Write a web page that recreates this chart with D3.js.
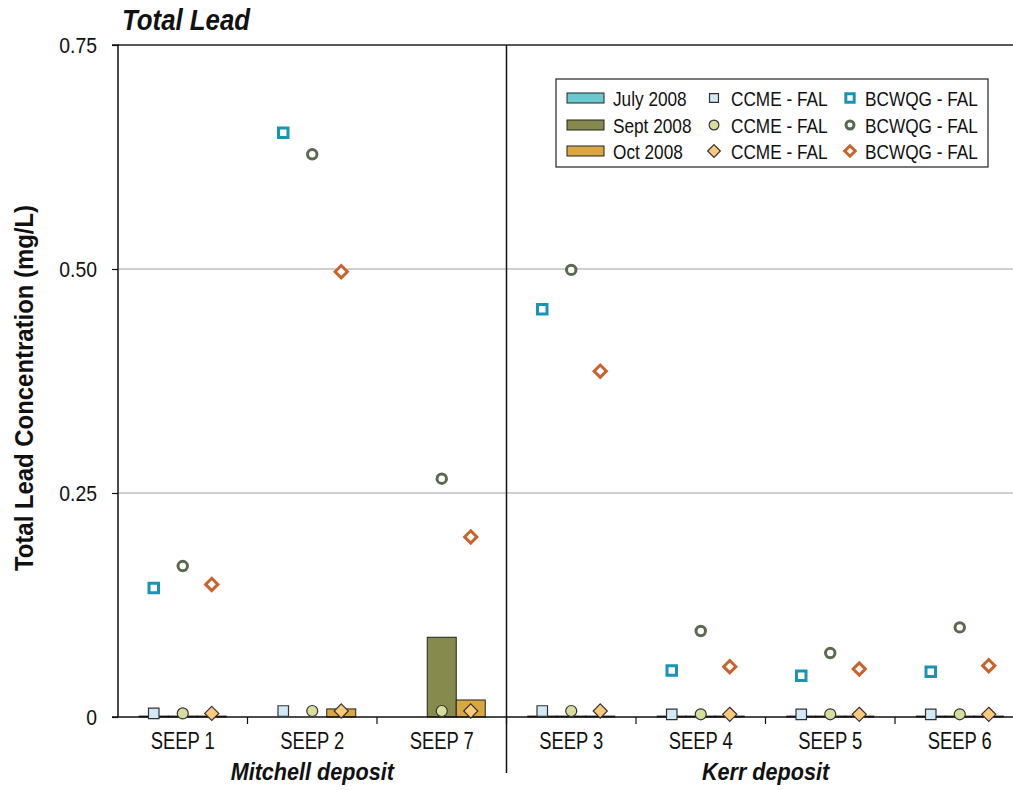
<!DOCTYPE html>
<html><head><meta charset="utf-8">
<script src="https://cdn.jsdelivr.net/npm/d3@7"></script>
<style>
html,body{margin:0;padding:0;background:#fff;}
text{font-family:"Liberation Sans",Arial,sans-serif;fill:#111;}
</style></head>
<body><svg id="chart" width="1013" height="790"></svg>
<script>
const categories = ["SEEP 1","SEEP 2","SEEP 7","SEEP 3","SEEP 4","SEEP 5","SEEP 6"];
const depositNames = ["Mitchell deposit","Kerr deposit"];
const depositCounts = [3,4];
const seriesNames = ["July 2008","Sept 2008","Oct 2008"];
const julyVals = [0.001, null, null, 0.001, 0.001, 0.001, 0.001];
const septVals = [0.001, null, 0.089, 0.001, 0.001, 0.001, 0.001];
const octVals  = [0.001, 0.009, 0.019, 0.001, 0.001, 0.001, 0.001];
const ccmeJuly = [0.004, 0.0067, null, 0.0067, 0.003, 0.003, 0.003];
const ccmeSept = [0.004, 0.0067, 0.0067, 0.0067, 0.003, 0.003, 0.003];
const ccmeOct  = [0.004, 0.0067, 0.0067, 0.0067, 0.003, 0.003, 0.003];
const bcJuly = [0.144, 0.652, null, 0.455, 0.052, 0.046, 0.0506];
const bcSept = [0.1685, 0.628, 0.266, 0.499, 0.096, 0.0714, 0.100];
const bcOct  = [0.148, 0.497, 0.201, 0.386, 0.0562, 0.0536, 0.0573];
const yTicks = [0, 0.25, 0.50, 0.75];
const yTickLabels = ["0", "0.25", "0.50", "0.75"];
const legendLabel2 = "CCME - FAL";
const legendLabel3 = "BCWQG - FAL";

const barColors = ["#6cc8cf","#878a4d","#d9a641"];
const ccmeFill = ["#d2eaf8","#d8dc9c","#fbc97c"];
const bcStroke = ["#1a93b5","#5a6a4e","#c9622d"];
const squareDiamond = {draw(ctx,size){const r=Math.sqrt(size/2);ctx.moveTo(0,-r);ctx.lineTo(r,0);ctx.lineTo(0,r);ctx.lineTo(-r,0);ctx.closePath();}};
const shapes = [d3.symbolSquare, d3.symbolCircle, squareDiamond];

const svg = d3.select("#chart");
const m = {left:118, top:45};
const plotH = 672, plotW = 906.5;
const g = svg.append("g").attr("transform",`translate(${m.left},${m.top})`);

// narrow text helper (horizontal compression to mimic a condensed face)
function ntext(parent, x, yy, s, str, size, opts={}) {
  const t = parent.append("text").attr("transform",`translate(${x},${yy})${opts.rotate?` rotate(${opts.rotate})`:""} scale(${s},1)`)
    .attr("font-size",size).text(str);
  if (opts.anchor) t.attr("text-anchor",opts.anchor);
  if (opts.weight) t.attr("font-weight",opts.weight);
  if (opts.style) t.attr("font-style",opts.style);
  if (opts.dy) t.attr("dy",opts.dy);
  return t;
}

const y = d3.scaleLinear().domain([0,0.75]).range([plotH,0]);
const x0 = d3.scaleBand().domain(categories).range([0,plotW]).padding(0);
const x1 = d3.scaleBand().domain(seriesNames).range([0,x0.bandwidth()]).paddingInner(0).paddingOuter(0.733);

// gridlines
g.selectAll("line.grid").data(yTicks.filter(t=>t>0 && t<0.75)).join("line")
  .attr("x1",0).attr("x2",plotW).attr("y1",d=>y(d)).attr("y2",d=>y(d))
  .attr("stroke","#a0a0a0").attr("stroke-width",1);
g.append("line").attr("x1",0).attr("x2",plotW).attr("y1",0).attr("y2",0).attr("stroke","#222").attr("stroke-width",1.5);

// bars
const barSeries = [julyVals, septVals, octVals];
barSeries.forEach((vals,si)=>{
  g.selectAll(`rect.b${si}`).data(vals.map((v,i)=>({v,c:categories[i]})).filter(d=>d.v!=null)).join("rect")
    .attr("x",d=>x0(d.c)+x1(seriesNames[si])).attr("width",x1.bandwidth())
    .attr("y",d=>y(d.v)).attr("height",d=>plotH-y(d.v))
    .attr("fill",barColors[si]).attr("stroke","#222").attr("stroke-width",1);
});

// y axis
const yAxis = d3.axisLeft(y).tickValues(yTicks).tickSize(6).tickFormat(()=> "");
const ya = g.append("g").call(yAxis);
ya.select(".domain").attr("stroke","#111").attr("stroke-width",1.5).attr("d",`M-6,0H0V${plotH}`);
ya.selectAll(".tick line").attr("stroke","#111").attr("stroke-width",1.2);
yTicks.forEach((t,i)=>{
  ntext(g, -21, y(t), 0.88, yTickLabels[i], 22, {anchor:"end", dy:"0.36em"});
});

// x axis
g.append("line").attr("x1",-6).attr("x2",plotW).attr("y1",plotH).attr("y2",plotH).attr("stroke","#111").attr("stroke-width",1.5);
const bounds = categories.map(c=>x0(c)).concat([plotW]).slice(1);
g.selectAll("line.xt").data(bounds).join("line")
  .attr("x1",d=>d).attr("x2",d=>d).attr("y1",plotH).attr("y2",plotH+7).attr("stroke","#111").attr("stroke-width",1.2);
categories.forEach(c=>{
  ntext(g, x0(c)+x0.bandwidth()/2, plotH+32, 0.8, c, 23, {anchor:"middle"});
});

// deposits
let acc = 0;
depositNames.forEach((nm,i)=>{
  const start = x0(categories[acc]);
  const end = acc+depositCounts[i] < categories.length ? x0(categories[acc+depositCounts[i]]) : plotW;
  ntext(g, (start+end)/2, plotH+63, 0.9, nm, 24, {anchor:"middle", weight:"bold", style:"italic"});
  acc += depositCounts[i];
  if (acc < categories.length) {
    g.append("line").attr("x1",end).attr("x2",end).attr("y1",0).attr("y2",plotH+56).attr("stroke","#111").attr("stroke-width",1.5);
  }
});

// markers
const ccmeSeries = [ccmeJuly, ccmeSept, ccmeOct];
const bcSeries = [bcJuly, bcSept, bcOct];
ccmeSeries.forEach((vals,si)=>{
  g.selectAll(`path.c${si}`).data(vals.map((v,i)=>({v,c:categories[i]})).filter(d=>d.v!=null)).join("path")
    .attr("d",d3.symbol().type(shapes[si]).size([110,95,100][si]))
    .attr("transform",d=>`translate(${x0(d.c)+x1(seriesNames[si])+x1.bandwidth()/2},${y(d.v)})`)
    .attr("fill",ccmeFill[si]).attr("stroke","#333").attr("stroke-width",1.2);
});
bcSeries.forEach((vals,si)=>{
  g.selectAll(`path.bc${si}`).data(vals.map((v,i)=>({v,c:categories[i]})).filter(d=>d.v!=null)).join("path")
    .attr("d",d3.symbol().type(shapes[si]).size([90,70,75][si]))
    .attr("transform",d=>`translate(${x0(d.c)+x1(seriesNames[si])+x1.bandwidth()/2},${y(d.v)})`)
    .attr("fill","#fff").attr("stroke",bcStroke[si]).attr("stroke-width",3);
});

// titles
ntext(svg, 122, 30, 0.89, "Total Lead", 29, {weight:"bold", style:"italic"});
ntext(svg, 33, (45+717)/2+7, 0.92, "Total Lead Concentration (mg/L)", 26, {anchor:"middle", weight:"bold", rotate:-90});

// legend
const lg = svg.append("g").attr("transform","translate(556,79)");
lg.append("rect").attr("width",432).attr("height",88).attr("fill","#fff").attr("stroke","#222").attr("stroke-width",1.2);
const rowY = [19, 46, 72];
seriesNames.forEach((s,i)=>{
  lg.append("rect").attr("x",11).attr("y",rowY[i]-5).attr("width",37).attr("height",10)
    .attr("fill",barColors[i]).attr("stroke","#222").attr("stroke-width",1);
  ntext(lg, 57, rowY[i], 0.82, s, 21, {dy:"0.36em"});
  lg.append("path").attr("d",d3.symbol().type(shapes[i]).size([80,75,80][i]))
    .attr("transform",`translate(158,${rowY[i]})`).attr("fill",ccmeFill[i]).attr("stroke","#333").attr("stroke-width",1.2);
  ntext(lg, 175, rowY[i], 0.82, legendLabel2, 21, {dy:"0.36em"});
  lg.append("path").attr("d",d3.symbol().type(shapes[i]).size([70,50,55][i]))
    .attr("transform",`translate(294,${rowY[i]})`).attr("fill","#fff").attr("stroke",bcStroke[i]).attr("stroke-width",3);
  ntext(lg, 309, rowY[i], 0.82, legendLabel3, 21, {dy:"0.36em"});
});
</script></body></html>
